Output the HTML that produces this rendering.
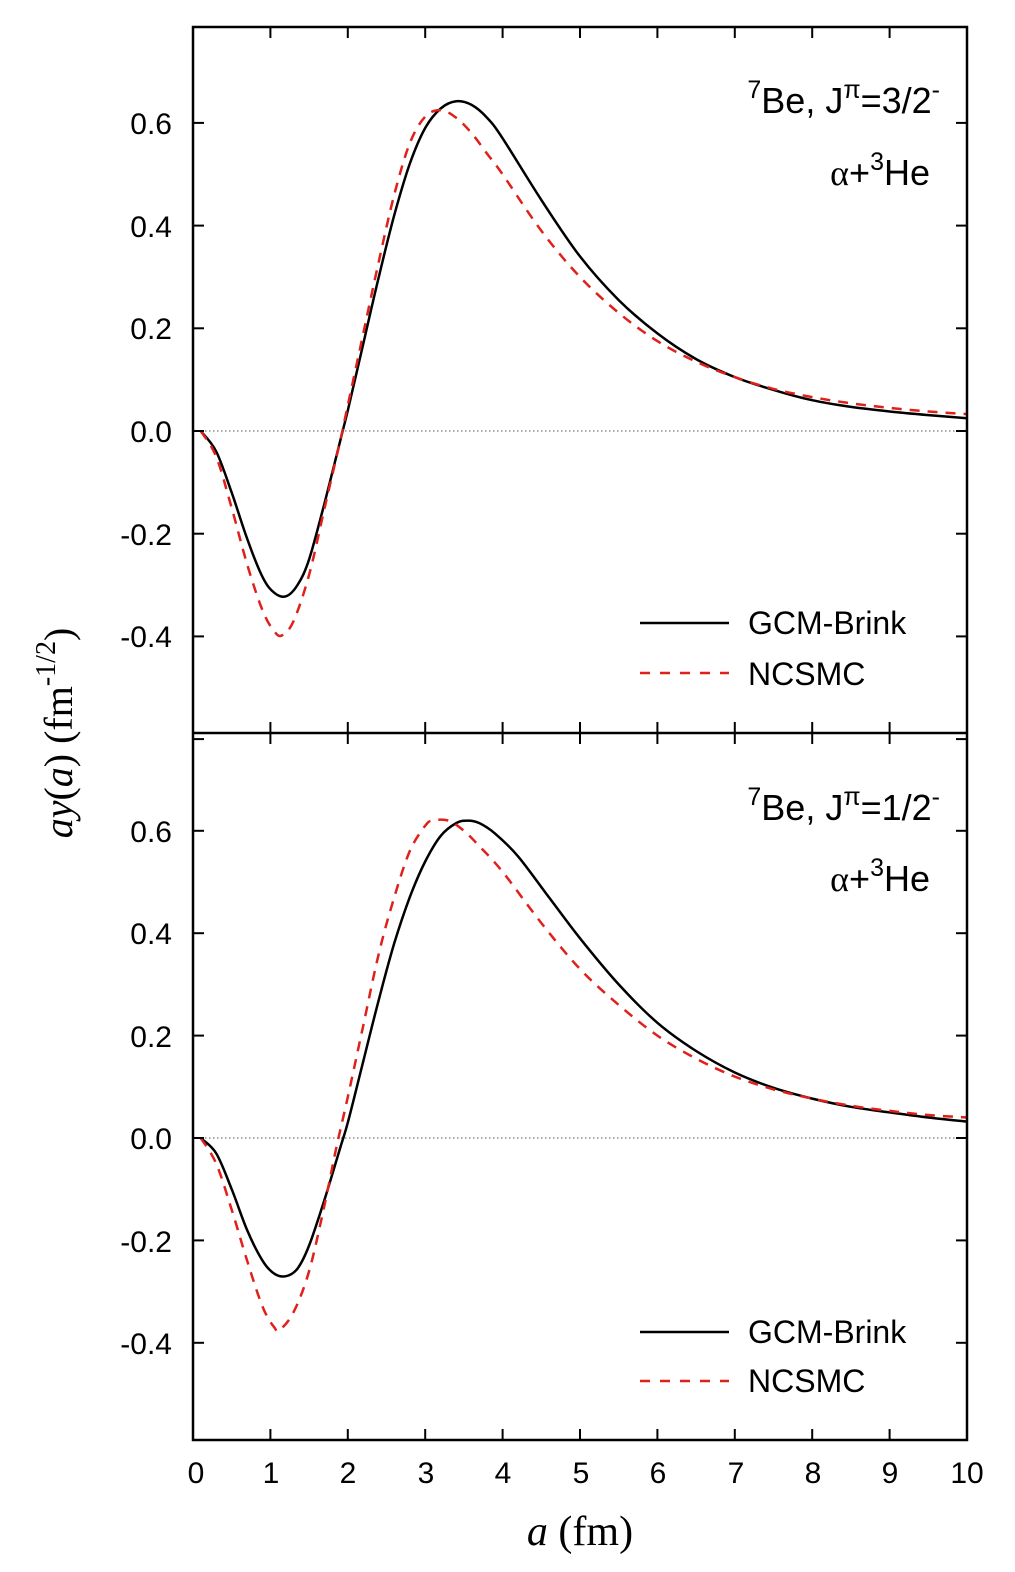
<!DOCTYPE html>
<html><head><meta charset="utf-8"><style>
body{margin:0;background:#fff}
svg text{font-family:"Liberation Sans",sans-serif;fill:#000}
.s{font-family:"Liberation Serif",serif}
</style></head><body>
<svg id="g" width="1015" height="1567" xmlns="http://www.w3.org/2000/svg">
<g id="plot"></g>
<g font-size="30">
<text x="172" y="134" text-anchor="end">0.6</text>
<text x="172" y="237" text-anchor="end">0.4</text>
<text x="172" y="339" text-anchor="end">0.2</text>
<text x="172" y="442" text-anchor="end">0.0</text>
<text x="172" y="545" text-anchor="end">-0.2</text>
<text x="172" y="647" text-anchor="end">-0.4</text>
<text x="172" y="842" text-anchor="end">0.6</text>
<text x="172" y="944" text-anchor="end">0.4</text>
<text x="172" y="1047" text-anchor="end">0.2</text>
<text x="172" y="1149" text-anchor="end">0.0</text>
<text x="172" y="1252" text-anchor="end">-0.2</text>
<text x="172" y="1354" text-anchor="end">-0.4</text>
</g>
<g font-size="30" text-anchor="middle">
<text x="196" y="1483">0</text><text x="271" y="1483">1</text><text x="348" y="1483">2</text>
<text x="426" y="1483">3</text><text x="503" y="1483">4</text><text x="581" y="1483">5</text>
<text x="658" y="1483">6</text><text x="736" y="1483">7</text><text x="813" y="1483">8</text>
<text x="890" y="1483">9</text><text x="967" y="1483">10</text>
</g>
<text class="s" x="580" y="1545" font-size="42" text-anchor="middle"><tspan font-style="italic">a</tspan> (fm)</text>
<text class="s" transform="translate(72,733) rotate(-90)" font-size="40" text-anchor="middle"><tspan font-style="italic">ay</tspan>(<tspan font-style="italic">a</tspan>) (fm<tspan font-size="28" dy="-17">-1/2</tspan><tspan dy="17">)</tspan></text>
<g font-size="36" text-anchor="end">
<text x="940" y="113"><tspan font-size="25" dy="-15">7</tspan><tspan dy="15">Be, J</tspan><tspan font-size="25" dy="-15">π</tspan><tspan dy="15">=3/2</tspan><tspan font-size="25" dy="-15">-</tspan></text>
<text x="930" y="185"><tspan class="s">α</tspan>+<tspan font-size="25" dy="-15">3</tspan><tspan dy="15">He</tspan></text>
<text x="940" y="820"><tspan font-size="25" dy="-15">7</tspan><tspan dy="15">Be, J</tspan><tspan font-size="25" dy="-15">π</tspan><tspan dy="15">=1/2</tspan><tspan font-size="25" dy="-15">-</tspan></text>
<text x="930" y="891"><tspan class="s">α</tspan>+<tspan font-size="25" dy="-15">3</tspan><tspan dy="15">He</tspan></text>
</g>
<g font-size="32">
<text x="748" y="634">GCM-Brink</text><text x="748" y="685">NCSMC</text>
<text x="748" y="1343">GCM-Brink</text><text x="748" y="1392">NCSMC</text>
</g>
<line x1="640" y1="623" x2="729" y2="623" stroke="#000" stroke-width="2.5"/>
<line x1="640" y1="673" x2="729" y2="673" stroke="#e0201a" stroke-width="2.5" stroke-dasharray="10,10"/>
<line x1="640" y1="1332" x2="729" y2="1332" stroke="#000" stroke-width="2.5"/>
<line x1="640" y1="1381" x2="729" y2="1381" stroke="#e0201a" stroke-width="2.5" stroke-dasharray="10,10"/>
</svg>
<script>
var X0=193,X1=967,sx=(X1-X0)/10,P=document.getElementById('plot'),ns="http://www.w3.org/2000/svg";
function el(t,a){var e=document.createElementNS(ns,t);for(var k in a)e.setAttribute(k,a[k]);P.appendChild(e);return e;}
function panel(y0,sy,curves){
 el('line',{x1:X0,y1:y0,x2:X1,y2:y0,stroke:'#555','stroke-width':1,'stroke-dasharray':'1.5,2.5'});
 curves.forEach(function(c){
  var p=c.d.map(function(q){return [X0+q[0]*sx,y0-q[1]*sy]});
  var d='M'+p[0][0].toFixed(1)+','+p[0][1].toFixed(1);
  for(var i=0;i<p.length-1;i++){
   var a=p[i>0?i-1:0],b=p[i],e=p[i+1],f=p[i+2<p.length?i+2:i+1];
   var c1=[b[0]+(e[0]-a[0])/6,b[1]+(e[1]-a[1])/6],c2=[e[0]-(f[0]-b[0])/6,e[1]-(f[1]-b[1])/6];
   d+=' C'+c1[0].toFixed(1)+','+c1[1].toFixed(1)+' '+c2[0].toFixed(1)+','+c2[1].toFixed(1)+' '+e[0].toFixed(1)+','+e[1].toFixed(1);
  }
  var at={d:d,fill:'none',stroke:c.col,'stroke-width':2.5,'stroke-linejoin':'round'};
  if(c.dash)at['stroke-dasharray']='10,8';
  el('path',at);
 });
}
var tb=[[0.1,0],[0.3,-0.04],[0.5,-0.12],[0.7,-0.21],[0.9,-0.285],[1.05,-0.315],[1.2,-0.322],[1.35,-0.30],[1.5,-0.25],[1.7,-0.14],[1.9,-0.02],[2.0,0.04],[2.2,0.17],[2.4,0.30],[2.6,0.42],[2.8,0.52],[3.0,0.59],[3.2,0.628],[3.4,0.642],[3.6,0.635],[3.8,0.61],[4.0,0.57],[4.5,0.45],[5.0,0.34],[5.5,0.255],[6.0,0.19],[6.5,0.14],[7.0,0.105],[7.5,0.08],[8.0,0.06],[8.5,0.047],[9.0,0.038],[9.5,0.031],[10,0.025]];
var tr=[[0.1,0],[0.3,-0.05],[0.5,-0.15],[0.7,-0.26],[0.9,-0.35],[1.05,-0.39],[1.15,-0.398],[1.3,-0.37],[1.5,-0.28],[1.7,-0.15],[1.9,-0.02],[2.0,0.05],[2.2,0.19],[2.4,0.33],[2.6,0.46],[2.8,0.56],[3.0,0.612],[3.2,0.625],[3.4,0.61],[3.6,0.58],[3.8,0.54],[4.0,0.50],[4.5,0.39],[5.0,0.30],[5.5,0.23],[6.0,0.175],[6.5,0.135],[7.0,0.105],[7.5,0.082],[8.0,0.066],[8.5,0.054],[9.0,0.045],[9.5,0.038],[10,0.033]];
var bb=[[0.1,0],[0.3,-0.03],[0.5,-0.1],[0.7,-0.18],[0.9,-0.24],[1.05,-0.265],[1.2,-0.27],[1.35,-0.255],[1.5,-0.21],[1.7,-0.12],[1.9,-0.02],[2.0,0.03],[2.2,0.15],[2.4,0.27],[2.6,0.38],[2.8,0.47],[3.0,0.54],[3.2,0.59],[3.4,0.615],[3.55,0.62],[3.7,0.615],[3.9,0.595],[4.2,0.55],[4.6,0.47],[5.0,0.39],[5.5,0.30],[6.0,0.225],[6.5,0.17],[7.0,0.128],[7.5,0.098],[8.0,0.077],[8.5,0.061],[9.0,0.05],[9.5,0.04],[10,0.032]];
var br=[[0.1,0],[0.3,-0.05],[0.5,-0.14],[0.7,-0.24],[0.9,-0.33],[1.05,-0.37],[1.12,-0.375],[1.3,-0.34],[1.5,-0.26],[1.7,-0.13],[1.85,-0.02],[2.0,0.08],[2.2,0.22],[2.4,0.36],[2.6,0.47],[2.8,0.56],[3.0,0.61],[3.1,0.62],[3.3,0.62],[3.5,0.6],[3.7,0.57],[4.0,0.52],[4.5,0.42],[5.0,0.33],[5.5,0.26],[6.0,0.2],[6.5,0.155],[7.0,0.12],[7.5,0.095],[8.0,0.077],[8.5,0.063],[9.0,0.053],[9.5,0.045],[10,0.04]];
panel(431,513.5,[{d:tb,col:'#000'},{d:tr,col:'#e0201a',dash:1}]);
panel(1138,512,[{d:bb,col:'#000'},{d:br,col:'#e0201a',dash:1}]);
el('rect',{x:X0,y:27,width:X1-X0,height:1413,fill:'none',stroke:'#000','stroke-width':2.5});
el('line',{x1:X0,y1:733,x2:X1,y2:733,stroke:'#000','stroke-width':2.5});
for(var i=1;i<10;i++){var x=X0+i*sx;
 [[27,38],[722,744],[1429,1440]].forEach(function(r){el('line',{x1:x,y1:r[0],x2:x,y2:r[1],stroke:'#000','stroke-width':2});});}
function yt(y0,sy){for(var v=-0.6;v<=0.61;v+=0.2){var y=y0-v*sy;if(y<30||y>1437||Math.abs(y-733)<5)continue;
 el('line',{x1:X0,y1:y,x2:X0+11,y2:y,stroke:'#000','stroke-width':2});el('line',{x1:X1-11,y1:y,x2:X1,y2:y,stroke:'#000','stroke-width':2});}}
yt(431,513.5);yt(1138,512);
</script>
</body></html>
